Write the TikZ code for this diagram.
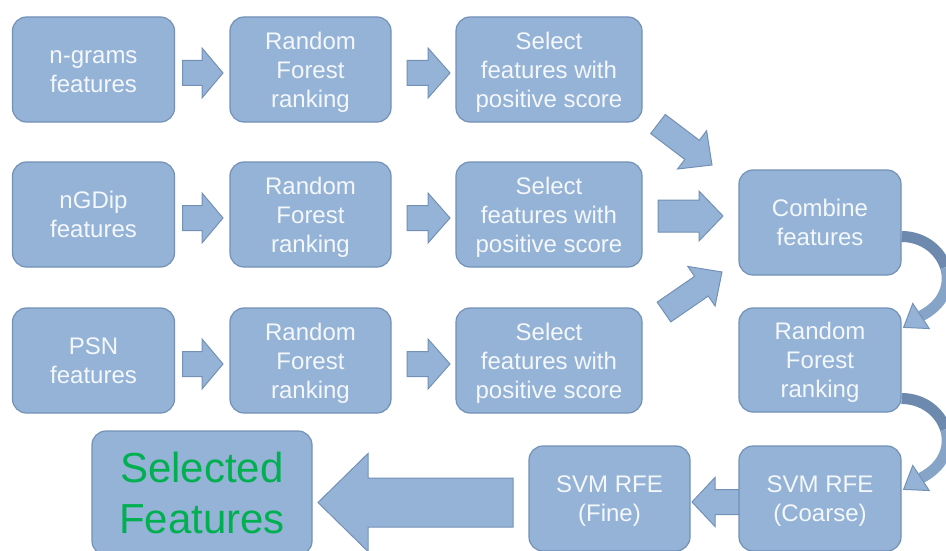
\documentclass[tikz,border=0pt]{standalone}
\usepackage{fontspec}
\setmainfont{Liberation Sans}
\usetikzlibrary{calc}
\definecolor{boxfill}{HTML}{94B3D6}
\definecolor{boxline}{HTML}{7391B6}
\definecolor{txt}{HTML}{F4F7FB}
\definecolor{curvedark}{HTML}{6D8AAE}
\definecolor{curvelight}{HTML}{86A4C7}
\definecolor{selgreen}{HTML}{00B050}
\tikzset{
  box/.style={draw=boxline, line width=1.2pt, fill=boxfill, rounded corners=14pt,
    text=txt, align=center, font=\fontsize{24}{29}\selectfont, inner sep=0pt,
    minimum width=162pt, minimum height=105pt},
  barrow/.style={draw=boxline, line width=1pt, fill=boxfill, line join=miter},
  curvestyle/.style={line width=11pt}
}
\newcommand{\bs}{\rule[-5pt]{0pt}{27pt}}
% #1 tail, #2 tip, #3 shaft half width, #4 head half width, #5 head length
\newcommand{\blockarrow}[5]{%
  \coordinate (ba-b) at ($#2!#5!#1$);
  \draw[barrow] ($#1!#3!90:#2$) -- ($(ba-b)!#3!90:#2$) -- ($(ba-b)!#4!90:#2$) -- #2
    -- ($(ba-b)!#4!-90:#2$) -- ($(ba-b)!#3!-90:#2$) -- ($#1!#3!-90:#2$) -- cycle;}
\begin{document}
\begin{tikzpicture}[x=1pt,y=-1pt]
\useasboundingbox (0,0) rectangle (946,551);
\clip (0,0) rectangle (946,551);
\fill[white] (0,0) rectangle (946,551);

\path (93.5,69.5) coordinate (pn1) (310.5,69.5) coordinate (pr1) (549,69.5) coordinate (ps1)
      (93.5,214.5) coordinate (pn2) (310.5,214.5) coordinate (pr2) (549,214.5) coordinate (ps2)
      (93.5,360.5) coordinate (pn3) (310.5,360.5) coordinate (pr3) (549,360.5) coordinate (ps3);

% block arrows (drawn first, boxes on top)
\foreach \r in {1,2,3}{
  \coordinate (t1) at ($(pn\r)+(89,3.5)$);
  \coordinate (h1) at ($(pn\r)+(129.5,3.5)$);
  \blockarrow{(t1)}{(h1)}{12.5pt}{25pt}{21pt}
  \coordinate (t2) at ($(pr\r)+(96.5,3.5)$);
  \coordinate (h2) at ($(pr\r)+(139.5,3.5)$);
  \blockarrow{(t2)}{(h2)}{12.5pt}{25pt}{22pt}
}
\coordinate (d1t) at (658,124);
\coordinate (d1h) at (712,165);
\blockarrow{(d1t)}{(d1h)}{12pt}{24pt}{25pt}
\coordinate (d2t) at (658,216);
\coordinate (d2h) at (723,216);
\blockarrow{(d2t)}{(d2h)}{16pt}{25pt}{24pt}
\coordinate (d3t) at (664,312);
\coordinate (d3h) at (722,272);
\blockarrow{(d3t)}{(d3h)}{12pt}{24pt}{25pt}
\coordinate (fct) at (742,502);
\coordinate (fch) at (692,502);
\blockarrow{(fct)}{(fch)}{12.5pt}{24.5pt}{23pt}
\coordinate (sft) at (513,502.5);
\coordinate (sfh) at (318,502.5);
\blockarrow{(sft)}{(sfh)}{24.5pt}{49pt}{50pt}

% boxes
\node[box] (n1) at (pn1) {\bs n-grams\\\bs features};
\node[box, minimum width=161pt] (r1) at (pr1) {\bs Random\\\bs Forest\\\bs ranking};
\node[box, minimum width=186pt] (s1) at (ps1) {\bs Select\\\bs features with\\\bs positive score};
\node[box] (n2) at (pn2) {\bs nGDip\\\bs features};
\node[box, minimum width=161pt] (r2) at (pr2) {\bs Random\\\bs Forest\\\bs ranking};
\node[box, minimum width=186pt] (s2) at (ps2) {\bs Select\\\bs features with\\\bs positive score};
\node[box] (n3) at (pn3) {\bs PSN\\\bs features};
\node[box, minimum width=161pt] (r3) at (pr3) {\bs Random\\\bs Forest\\\bs ranking};
\node[box, minimum width=186pt] (s3) at (ps3) {\bs Select\\\bs features with\\\bs positive score};
\node[box] (comb) at (820,222.5) {\bs Combine\\\bs features};
\node[box, minimum height=104pt] (rf4) at (820,360) {\bs Random\\\bs Forest\\\bs ranking};
\node[box] (svmc) at (820,498.5) {\bs SVM RFE\\\bs (Coarse)};
\node[box, minimum width=161pt] (svmf) at (609.5,498.5) {\bs SVM RFE\\\bs (Fine)};
\node[box, minimum width=220pt, minimum height=124pt, text=selgreen,
      font=\fontsize{42}{51}\selectfont] (sel) at (202,493) {Selected\\Features};

% curved arrows on the right
\coordinate (c1s) at ($(comb.east)+(0,14)$);
\coordinate (c1m) at (945.5,267.25);
\coordinate (c1b) at (921,316);
\coordinate (c1h) at ($(rf4.north east)+(2,20)$);
\draw[curvestyle, draw=curvedark] (c1s) .. controls (923.5,236.5) and (940.25,250.375) .. (c1m);
\draw[curvestyle, draw=curvelight] (c1m) .. controls (950.75,284.125) and (944.5,304) .. (c1b);
\draw[barrow] (c1h) -- ($(c1b)!15pt!90:(c1h)$) -- ($(c1b)!15pt!-90:(c1h)$) -- cycle;

\coordinate (c2s) at ($(rf4.east)+(0,38.5)$);
\coordinate (c2m) at (945.5,429.25);
\coordinate (c2b) at (921,478);
\coordinate (c2h) at ($(svmc.north east)+(2,44)$);
\draw[curvestyle, draw=curvedark] (c2s) .. controls (923.5,398.5) and (940.25,412.375) .. (c2m);
\draw[curvestyle, draw=curvelight] (c2m) .. controls (950.75,446.125) and (944.5,466) .. (c2b);
\draw[barrow] (c2h) -- ($(c2b)!15pt!90:(c2h)$) -- ($(c2b)!15pt!-90:(c2h)$) -- cycle;
\end{tikzpicture}
\end{document}
